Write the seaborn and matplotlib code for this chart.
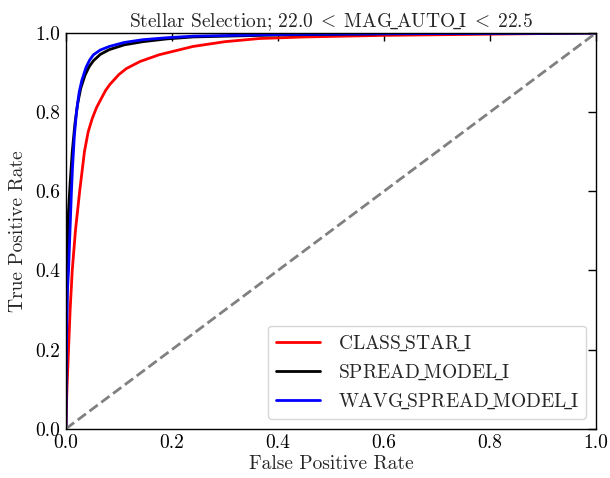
import numpy as np
import pandas as pd
import seaborn as sns
import matplotlib.pyplot as plt

# valores (aproximados)
fpr_class = [0.0, 0.002, 0.005, 0.008, 0.012, 0.018, 0.026, 0.035, 0.042, 0.05, 0.058, 0.067, 0.075, 0.083, 0.1, 0.114, 0.14, 0.176, 0.24, 0.3, 0.365, 0.45, 0.6, 0.8, 1.0]
tpr_class = [0.0, 0.1, 0.2, 0.3, 0.4, 0.5, 0.6, 0.7, 0.75, 0.785, 0.812, 0.835, 0.855, 0.87, 0.895, 0.91, 0.928, 0.945, 0.966, 0.978, 0.986, 0.99, 0.994, 0.997, 1.0]

fpr_spread = [0.0, 0.0005, 0.001, 0.003, 0.005, 0.008, 0.012, 0.017, 0.022, 0.028, 0.036, 0.044, 0.052, 0.065, 0.082, 0.11, 0.145, 0.19, 0.24, 0.4, 0.6, 0.8, 1.0]
tpr_spread = [0.0, 0.15, 0.25, 0.45, 0.55, 0.62, 0.7, 0.77, 0.82, 0.86, 0.893, 0.915, 0.93, 0.946, 0.958, 0.97, 0.978, 0.985, 0.99, 0.995, 0.998, 0.999, 1.0]

fpr_wavg = [0.0, 0.0005, 0.001, 0.003, 0.005, 0.0105, 0.0125, 0.016, 0.02, 0.025, 0.03, 0.038, 0.045, 0.052, 0.065, 0.082, 0.11, 0.145, 0.19, 0.24, 0.4, 0.6, 0.8, 1.0]
tpr_wavg = [0.0, 0.1, 0.2, 0.35, 0.4, 0.6, 0.66, 0.74, 0.8, 0.85, 0.88, 0.913, 0.932, 0.945, 0.957, 0.966, 0.976, 0.983, 0.988, 0.992, 0.996, 0.998, 0.999, 1.0]

sns.set_style("white")
plt.rcParams['font.family'] = ['cmr10', 'DejaVu Serif']
plt.rcParams['mathtext.fontset'] = 'cm'
plt.rcParams['axes.formatter.use_mathtext'] = True
plt.rcParams['xtick.direction'] = 'in'
plt.rcParams['ytick.direction'] = 'in'

US = r"$\!\_\!$"  # sublinhado estreito, como o \_ do LaTeX
FS = 14

fig, ax = plt.subplots(figsize=(6.1, 4.78), dpi=100)

curvas = [
    (fpr_class, tpr_class, "CLASS" + US + "STAR" + US + "I", "red"),
    (fpr_spread, tpr_spread, "SPREAD" + US + "MODEL" + US + "I", "black"),
    (fpr_wavg, tpr_wavg, "WAVG" + US + "SPREAD" + US + "MODEL" + US + "I", "blue"),
]
for fx, ty, nome, cor in curvas:
    df = pd.DataFrame({"fpr": fx, "tpr": ty})
    sns.lineplot(data=df, x="fpr", y="tpr", color=cor, lw=2, label=nome,
                 ax=ax, sort=False, estimator=None)

ax.plot([0, 1], [0, 1], ls='--', color='gray', lw=2)

ticks = np.arange(0, 1.01, 0.2)
ax.set_xlim(0, 1)
ax.set_ylim(0, 1)
ax.set_xticks(ticks)
ax.set_yticks(ticks)
ax.set_xticklabels([f"{v:.1f}" for v in ticks])
ax.set_yticklabels([f"{v:.1f}" for v in ticks])
ax.tick_params(top=True, right=True, length=6, width=1, labelsize=FS, colors='black', pad=4)
for s in ax.spines.values():
    s.set_color('black')
    s.set_linewidth(1)

ax.set_xlabel("False Positive Rate", fontsize=FS, labelpad=2)
ax.set_ylabel("True Positive Rate", fontsize=FS, labelpad=6)
ax.set_title("Stellar Selection; 22.0$\\;<\\;$MAG" + US + "AUTO" + US + "I$\\;<\\;$22.5",
             fontsize=FS, pad=4)
ax.legend(loc='lower right', fontsize=FS, frameon=True, fancybox=True,
          handlelength=2.3, handletextpad=0.9, labelspacing=0.5)

plt.subplots_adjust(left=0.108, right=0.977, top=0.931, bottom=0.103)
plt.savefig("out.png", dpi=100)
